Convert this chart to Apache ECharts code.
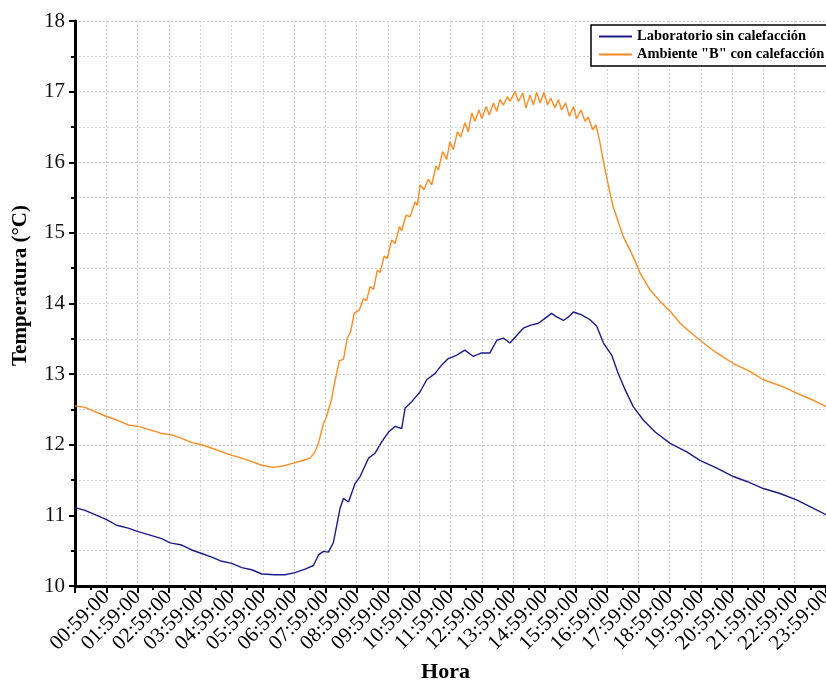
<!DOCTYPE html>
<html>
<head>
<meta charset="utf-8">
<script src="https://cdn.jsdelivr.net/npm/echarts@6/dist/echarts.min.js"></script>
<style>
  html, body { margin: 0; padding: 0; background: #fff; overflow: hidden; }
  #chart { width: 826px; height: 680px; }
</style>
</head>
<body>
<div id="chart"></div>
<script>
// Hour positions of the x ticks and their labels (tick 0 is the unlabeled origin)
const xTickLabels = ['', '00:59:00', '01:59:00', '02:59:00', '03:59:00', '04:59:00', '05:59:00',
  '06:59:00', '07:59:00', '08:59:00', '09:59:00', '10:59:00', '11:59:00', '12:59:00',
  '13:59:00', '14:59:00', '15:59:00', '16:59:00', '17:59:00', '18:59:00', '19:59:00',
  '20:59:00', '21:59:00', '22:59:00', '23:59:00'];

const seriesNames = ['Laboratorio sin calefacción', 'Ambiente "B" con calefacción'];

// Laboratory without heating: time (h) and temperature (°C)
const labTimes = [0, 0.32, 0.64, 1.01, 1.33, 1.70, 2.02, 2.40, 2.77, 3.04, 3.41, 3.73, 4.05, 4.37,
  4.69, 5.01, 5.33, 5.65, 5.97, 6.39, 6.71, 7.03, 7.35, 7.62, 7.78, 7.94, 8.10, 8.26, 8.47, 8.58,
  8.74, 8.95, 9.11, 9.38, 9.59, 9.80, 10.02, 10.23, 10.44, 10.55, 10.76, 11.03, 11.24, 11.51,
  11.72, 11.93, 12.20, 12.46, 12.73, 12.99, 13.26, 13.48, 13.69, 13.90, 14.12, 14.33, 14.54,
  14.81, 15.02, 15.23, 15.39, 15.61, 15.77, 15.93, 16.19, 16.46, 16.67, 16.89, 17.04, 17.15,
  17.36, 17.58, 17.84, 18.16, 18.54, 19.02, 19.55, 19.97, 20.51, 21.04, 21.47, 22.00, 22.53,
  23.06, 23.60, 24.00];
const labTemps = [11.11, 11.07, 11.01, 10.94, 10.86, 10.82, 10.77, 10.72, 10.67, 10.61, 10.58,
  10.51, 10.46, 10.41, 10.35, 10.32, 10.26, 10.23, 10.17, 10.16, 10.16, 10.19, 10.24, 10.29,
  10.44, 10.49, 10.48, 10.62, 11.10, 11.24, 11.19, 11.45, 11.55, 11.81, 11.88, 12.04, 12.18,
  12.26, 12.23, 12.52, 12.61, 12.75, 12.92, 13.01, 13.13, 13.22, 13.27, 13.34, 13.25, 13.30,
  13.30, 13.48, 13.51, 13.44, 13.55, 13.65, 13.69, 13.72, 13.79, 13.86, 13.81, 13.76, 13.81,
  13.88, 13.84, 13.77, 13.68, 13.44, 13.34, 13.27, 13.01, 12.78, 12.54, 12.35, 12.18, 12.02,
  11.90, 11.78, 11.67, 11.55, 11.48, 11.38, 11.31, 11.22, 11.10, 11.01];

// Room "B" with heating: time (h) and temperature (°C)
const ambTimes = [0, 0.32, 0.64, 1.01, 1.33, 1.70, 2.02, 2.40, 2.77, 3.09, 3.41, 3.73, 4.05, 4.37,
  4.69, 5.01, 5.33, 5.65, 5.97, 6.34, 6.66, 6.98, 7.30, 7.51, 7.67, 7.78, 7.94, 8.04, 8.20, 8.26,
  8.45, 8.58, 8.70, 8.81, 8.92, 9.09, 9.22, 9.32, 9.43, 9.54, 9.66, 9.75, 9.88, 9.98, 10.12,
  10.23, 10.37, 10.44, 10.58, 10.71, 10.87, 10.94, 11.03, 11.15, 11.29, 11.40, 11.54, 11.61,
  11.75, 11.88, 11.98, 12.09, 12.22, 12.33, 12.46, 12.57, 12.68, 12.78, 12.91, 13.00, 13.14,
  13.24, 13.37, 13.48, 13.58, 13.69, 13.82, 13.90, 14.06, 14.17, 14.31, 14.41, 14.54, 14.65,
  14.75, 14.86, 14.99, 15.10, 15.20, 15.34, 15.45, 15.55, 15.68, 15.80, 15.93, 16.03, 16.17,
  16.30, 16.40, 16.54, 16.65, 16.78, 16.94, 17.10, 17.20, 17.52, 17.84, 18.06, 18.38, 18.70,
  19.02, 19.34, 19.65, 19.97, 20.51, 21.04, 21.57, 22.00, 22.64, 23.17, 23.60, 24.00];
const ambTemps = [12.55, 12.53, 12.47, 12.40, 12.35, 12.28, 12.26, 12.21, 12.16, 12.14, 12.09,
  12.03, 12.00, 11.95, 11.90, 11.85, 11.81, 11.76, 11.71, 11.68, 11.70, 11.74, 11.78, 11.81,
  11.90, 12.02, 12.30, 12.40, 12.64, 12.80, 13.19, 13.21, 13.51, 13.60, 13.86, 13.91, 14.07,
  14.04, 14.24, 14.20, 14.47, 14.44, 14.67, 14.64, 14.90, 14.85, 15.09, 15.03, 15.25, 15.23,
  15.44, 15.39, 15.68, 15.61, 15.76, 15.68, 15.95, 15.89, 16.15, 16.04, 16.29, 16.18, 16.43,
  16.36, 16.56, 16.43, 16.70, 16.58, 16.74, 16.62, 16.79, 16.67, 16.84, 16.72, 16.89, 16.81,
  16.93, 16.86, 17.00, 16.86, 16.98, 16.77, 16.95, 16.81, 16.99, 16.84, 16.99, 16.81, 16.91,
  16.77, 16.89, 16.74, 16.84, 16.65, 16.79, 16.62, 16.74, 16.58, 16.64, 16.46, 16.53, 16.27,
  15.89, 15.56, 15.37, 14.95, 14.66, 14.43, 14.19, 14.03, 13.89, 13.72, 13.60, 13.48, 13.30,
  13.15, 13.04, 12.92, 12.82, 12.71, 12.63, 12.54];

const pairs = (xs, ys) => xs.map((x, i) => [x, ys[i]]);

const serif = '"Liberation Serif", "Times New Roman", serif';
const gridLine = { show: true, lineStyle: { color: '#cfcfcf', width: 1, type: [2, 2] } };
const axisBlack = { show: true, lineStyle: { color: '#000', width: 3 } };

const chart = echarts.init(document.getElementById('chart'), null, { renderer: 'canvas' });
chart.setOption({
  animation: false,
  backgroundColor: '#fff',
  grid: { left: 75, right: 0, top: 21, bottom: 94, containLabel: false, outerBoundsMode: 'none' },
  legend: {
    orient: 'vertical',
    left: 591,
    top: 25,
    padding: [4, 8, 4, 8],
    itemGap: 3,
    itemWidth: 33,
    itemHeight: 2,
    icon: 'rect',
    borderColor: '#000',
    borderWidth: 1.5,
    backgroundColor: '#fff',
    textStyle: { fontFamily: serif, fontWeight: 'bold', fontSize: 14.5, color: '#000' },
    data: seriesNames
  },
  xAxis: {
    type: 'value',
    min: 0,
    max: 24,
    interval: 1,
    name: 'Hora',
    nameLocation: 'middle',
    nameGap: 72,
    nameTextStyle: { fontFamily: serif, fontWeight: 'bold', fontSize: 22, color: '#000', padding: [0, 10, 0, 0] },
    axisLine: axisBlack,
    axisTick: { show: true, inside: false, length: 7, lineStyle: { color: '#000', width: 2 } },
    minorTick: { show: true, splitNumber: 2, length: 4, lineStyle: { color: '#000', width: 2 } },
    axisLabel: {
      rotate: 45,
      margin: 8,
      hideOverlap: false,
      fontFamily: serif,
      fontSize: 21,
      color: '#000',
      formatter: v => xTickLabels[Math.round(v)] || ''
    },
    splitLine: gridLine
  },
  yAxis: {
    type: 'value',
    min: 10,
    max: 18,
    interval: 1,
    name: 'Temperatura (°C)',
    nameLocation: 'middle',
    nameGap: 44,
    nameTextStyle: { fontFamily: serif, fontWeight: 'bold', fontSize: 21, color: '#000', padding: [0, 0, 0, 36] },
    axisLine: axisBlack,
    axisTick: { show: true, inside: false, length: 6, lineStyle: { color: '#000', width: 2 } },
    minorTick: { show: true, splitNumber: 2, length: 4, lineStyle: { color: '#000', width: 2 } },
    axisLabel: { margin: 10, fontFamily: serif, fontSize: 21, color: '#111' },
    splitLine: gridLine,
    minorSplitLine: gridLine
  },
  series: [
    {
      name: seriesNames[0],
      type: 'line',
      data: pairs(labTimes, labTemps),
      showSymbol: false,
      symbol: 'none',
      lineStyle: { color: '#1b1b8c', width: 1.4 },
      itemStyle: { color: '#1b1b8c' }
    },
    {
      name: seriesNames[1],
      type: 'line',
      data: pairs(ambTimes, ambTemps),
      showSymbol: false,
      symbol: 'none',
      lineStyle: { color: '#ff8a1e', width: 1.4 },
      itemStyle: { color: '#ff8a1e' }
    }
  ]
});
</script>
</body>
</html>
